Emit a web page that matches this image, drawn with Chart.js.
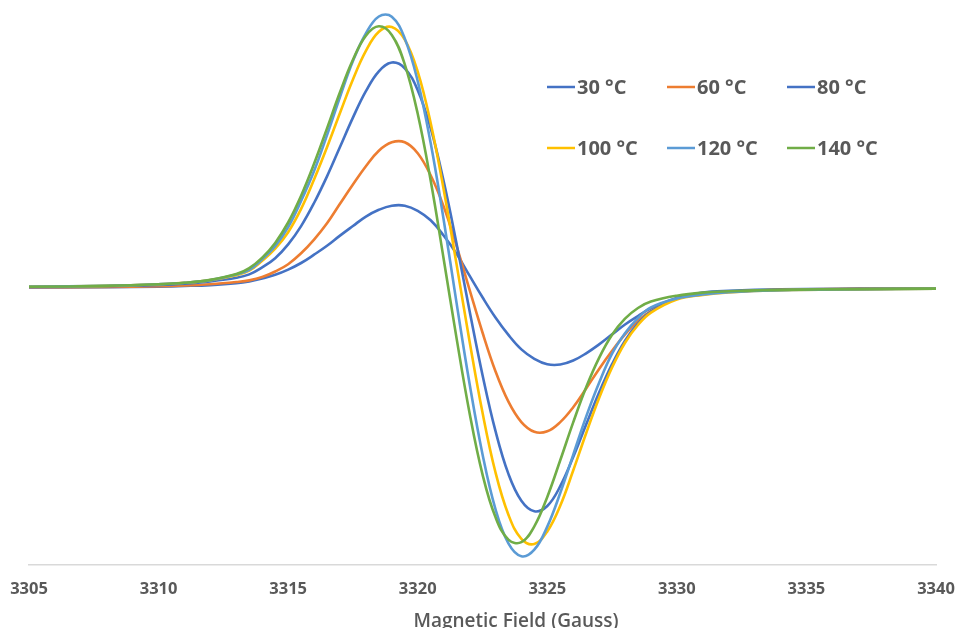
<!DOCTYPE html>
<html>
<head>
<meta charset="utf-8">
<script src="https://cdn.jsdelivr.net/npm/chart.js@4.4.1/dist/chart.umd.min.js"></script>
<style>
  html, body { margin: 0; padding: 0; background: #fff; }
  #wrap { width: 955px; height: 628px; position: relative; }
</style>
</head>
<body>
<div id="wrap"><canvas id="epr"></canvas></div>
<script>
/* ─── DATA ────────────────────────────────────────────── */
const FIELD = [
  3305, 3308, 3310, 3311, 3312, 3313,
  3313.5, 3314, 3314.5, 3315, 3315.5, 3316, 3316.5, 3317, 3317.5, 3318, 3318.5,
  3319, 3319.5, 3320, 3320.5, 3321, 3321.5, 3322, 3322.5, 3323, 3323.5, 3324,
  3324.5, 3325, 3325.5, 3326, 3326.5, 3327, 3327.5, 3328, 3328.5, 3329,
  3330, 3331, 3332, 3334, 3337, 3340,
]
const X_TICKS = [3305, 3310, 3315, 3320, 3325, 3330, 3335, 3340]

const T30 = [
  0.5, 0.8, 1.4, 2.0, 2.9, 4.7,
  6.5, 9.5, 13.2, 18.4, 25, 33.3, 42.2, 52.4, 62, 71.4, 78.2,
  82.3, 82.3, 77.2, 67.7, 52.5, 34.3, 12.3, -9.3, -29.5, -46.9, -61.4,
  -70.8, -76.2, -76.5, -72.5, -65.3, -56.4, -46.4, -36.5, -28, -20.3,
  -9.9, -4.6, -2.8, -1.2, -0.6, -0.3,
]
const T60 = [
  0.7, 1.1, 1.8, 2.5, 3.8, 6.0,
  7.6, 10.9, 16.5, 23.8, 34.7, 48.4, 64.7, 84.2, 103.5, 121.7, 137.3,
  145.7, 145.7, 134.8, 112.7, 81.6, 41.9, -1.6, -44.5, -83.2, -113.7, -134.1,
  -143.8, -143.3, -134.1, -119.2, -100.5, -80.9, -62.8, -46.4, -32.9, -23.1,
  -10.4, -5.8, -3.8, -1.7, -0.9, -0.6,
]
const T80 = [
  1.1, 1.8, 3.1, 4.3, 6.6, 10.2,
  13.6, 20.6, 29.8, 43.6, 61.9, 85, 111.6, 141, 170.4, 196.8, 216.7,
  225.5, 219.7, 197.8, 159.8, 106.9, 44.3, -22.8, -86.9, -142.9, -185.9, -212.8,
  -223.3, -218, -198.2, -169.1, -136.6, -104.6, -76.2, -52.6, -35.4, -23.5,
  -10.5, -6.3, -3.8, -2.0, -1.1, -0.6,
]
const T100 = [
  1.3, 2.1, 3.7, 5.2, 7.9, 12.8,
  17.3, 27.2, 39.3, 55.8, 79.1, 108.5, 140.7, 175, 208.6, 237.1, 256.2,
  261, 248.4, 216.4, 165, 98.8, 23.6, -53.2, -124.6, -184.3, -226.7, -250.8,
  -256, -243.4, -217.7, -182.5, -145.2, -110, -79.4, -54.7, -37, -24.7,
  -11.6, -6.9, -4.4, -2.3, -1.3, -0.8,
]
const T120 = [
  1.3, 2.2, 3.8, 5.2, 7.9, 13.4,
  18.1, 28.8, 41.9, 60.8, 87.1, 117, 152.9, 191, 226.9, 254.5, 271.5,
  271.3, 249.6, 206.9, 144.9, 68.5, -15.1, -95.5, -166.2, -221.1, -255.3, -268.2,
  -261.7, -238.6, -205, -166.8, -128.6, -94.7, -65.6, -45.2, -30.1, -19.4,
  -10.5, -6.5, -4.3, -2.3, -1.3, -0.7,
]
const T140 = [
  1.2, 2.1, 3.7, 5.2, 8.1, 13.9,
  19.9, 30.4, 45.1, 65.5, 92.2, 124.2, 159.6, 195.7, 228.2, 252.3, 261.7,
  253.1, 223.7, 174.2, 107.4, 29.3, -50.4, -124.9, -186.4, -229.1, -251.6, -254.2,
  -238.3, -208.9, -172.3, -134.4, -99.3, -69.9, -46.8, -30.7, -20, -13.6,
  -7.7, -4.6, -3.3, -1.9, -1.1, -0.6,
]

const SERIES = [
  { label: '30 °C',  data: T30,  color: '#4472C4' },
  { label: '60 °C',  data: T60,  color: '#ED7D31' },
  { label: '80 °C',  data: T80,  color: '#4472C4' },
  { label: '100 °C', data: T100, color: '#FFC000' },
  { label: '120 °C', data: T120, color: '#5B9BD5' },
  { label: '140 °C', data: T140, color: '#70AD47' },
]

/* ─── STYLE ───────────────────────────────────────────── */
const TEXT = '#595959'
const AXIS = '#D9D9D9'
const FONT = '"Open Sans", "Noto Sans", sans-serif'

// legend grid: 3 columns x 2 rows, placed inside the plot like Excel does
const LEGEND = { cols: [547, 667, 787], rows: [87, 148], lineLen: 28, gap: 2 }

/* ─── PLUGINS ─────────────────────────────────────────── */
const legendGrid = {
  id: 'legendGrid',
  afterDraw(chart) {
    const { ctx } = chart
    ctx.save()
    ctx.font = `bold 20px ${FONT}`
    ctx.textBaseline = 'middle'
    chart.data.datasets.forEach((ds, i) => {
      const x = LEGEND.cols[i % 3]
      const y = LEGEND.rows[Math.floor(i / 3)]
      ctx.strokeStyle = ds.borderColor
      ctx.lineWidth = 2.5
      ctx.beginPath()
      ctx.moveTo(x, y)
      ctx.lineTo(x + LEGEND.lineLen, y)
      ctx.stroke()
      ctx.fillStyle = TEXT
      ctx.fillText(ds.label, x + LEGEND.lineLen + LEGEND.gap, y + 1)
    })
    ctx.restore()
  },
}

// axis title sits right of centre and is clipped by the canvas bottom, as in the original
const axisTitle = {
  id: 'axisTitle',
  afterDraw(chart) {
    const { ctx } = chart
    ctx.save()
    ctx.font = `600 19px ${FONT}`
    ctx.fillStyle = TEXT
    ctx.textAlign = 'center'
    ctx.textBaseline = 'alphabetic'
    ctx.fillText('Magnetic Field (Gauss)', 516, 627)
    ctx.restore()
  },
}

/* ─── CHART ───────────────────────────────────────────── */
const datasets = SERIES.map((s, i) => ({
  label:       s.label,
  data:        FIELD.map((x, k) => ({ x, y: s.data[k] })),
  borderColor: s.color,
  borderWidth: 2.6,
  pointRadius: 0,
  tension:     0.4,
  fill:        false,
  order:       SERIES.length - i,   // last series (140 °C) ends up on top
}))

new Chart(document.getElementById('epr'), {
  type: 'line',
  data: { datasets },
  options: {
    responsive:          true,
    maintainAspectRatio: false,
    animation:           false,
    layout: { padding: { left: 29, right: 19, top: 10, bottom: 0 } },
    plugins: { legend: { display: false }, tooltip: { enabled: false } },
    scales: {
      x: {
        type: 'linear',
        min: X_TICKS[0],
        max: X_TICKS[X_TICKS.length - 1],
        afterFit: (scale) => {
          scale.height = 63
          scale.paddingLeft = 0      // edge labels fit in the layout padding
          scale.paddingRight = 0
        },
        afterBuildTicks: (scale) => { scale.ticks = X_TICKS.map(v => ({ value: v })) },
        grid:   { display: false, drawTicks: false },
        border: { display: true, color: AXIS, width: 1.5 },
        ticks:  {
          color: TEXT, padding: 14, maxRotation: 0,
          font: { family: FONT, size: 16.5, weight: 'bold' },
          callback: (v) => String(v),
        },
      },
      y: {
        display: false,
        min: -277,
        max: 278,
      },
    },
  },
  plugins: [legendGrid, axisTitle],
})
</script>
</body>
</html>
